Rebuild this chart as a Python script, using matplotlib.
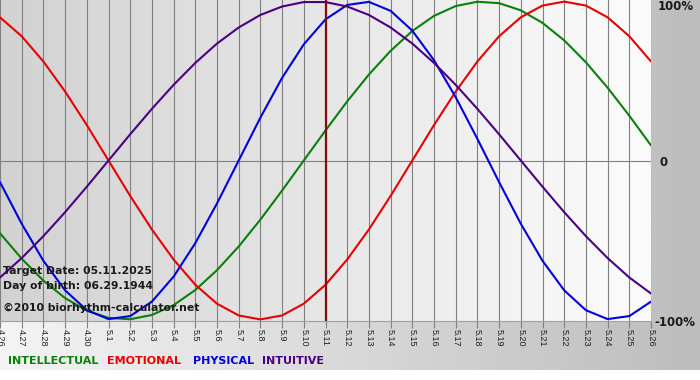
import matplotlib
matplotlib.use("Agg")
import matplotlib.pyplot as plt
import numpy as np
from matplotlib.colors import LinearSegmentedColormap

# day labels, 26 April .. 26 May
tick_labels = ["4.26", "4.27", "4.28", "4.29", "4.30",
               "5.1", "5.2", "5.3", "5.4", "5.5", "5.6", "5.7", "5.8", "5.9", "5.10",
               "5.11", "5.12", "5.13", "5.14", "5.15", "5.16", "5.17", "5.18", "5.19",
               "5.20", "5.21", "5.22", "5.23", "5.24", "5.25", "5.26"]
target_label = "5.11"

# cycle values (-1 .. 1) read per day
physical = [-0.136, -0.398, -0.631, -0.817, -0.942, -0.998, -0.979, -0.888, -0.731, -0.520,
            -0.270, 0.000, 0.270, 0.520, 0.731, 0.888, 0.979, 0.998, 0.942, 0.817,
            0.631, 0.398, 0.136, -0.136, -0.398, -0.631, -0.817, -0.942, -0.998, -0.979,
            -0.888]
emotional = [0.901, 0.782, 0.623, 0.434, 0.223, 0.000, -0.223, -0.434, -0.623, -0.782,
             -0.901, -0.975, -1.000, -0.975, -0.901, -0.782, -0.623, -0.434, -0.223, 0.000,
             0.223, 0.434, 0.623, 0.782, 0.901, 0.975, 1.000, 0.975, 0.901, 0.782,
             0.623]
intellectual = [-0.458, -0.618, -0.756, -0.866, -0.945, -0.990, -0.999, -0.972, -0.910, -0.815,
                -0.690, -0.541, -0.372, -0.189, 0.000, 0.189, 0.372, 0.541, 0.690, 0.815,
                0.910, 0.972, 0.999, 0.990, 0.945, 0.866, 0.756, 0.618, 0.458, 0.282,
                0.095]
intuitive = [-0.736, -0.614, -0.476, -0.325, -0.165, 0.000, 0.165, 0.325, 0.476, 0.614,
             0.736, 0.837, 0.916, 0.969, 0.997, 0.997, 0.969, 0.916, 0.837, 0.736,
             0.614, 0.476, 0.325, 0.165, 0.000, -0.165, -0.325, -0.476, -0.614, -0.736,
             -0.837]

info_lines = ["Target Date: 05.11.2025", "Day of birth: 06.29.1944",
              "\u00a92010 biorhythm-calculator.net"]

series = [("INTELLECTUAL", intellectual, "#0a800a"),
          ("EMOTIONAL", emotional, "#e80000"),
          ("PHYSICAL", physical, "#0000dd"),
          ("INTUITIVE", intuitive, "#4b0082")]

W, H = 700, 380
fig = plt.figure(figsize=(W / 100, H / 100), dpi=100, facecolor="white")

# outer background gradient
bg = fig.add_axes([0, 10 / H, 1, 1 - 10 / H])
bg_cmap = LinearSegmentedColormap.from_list("bg", ["#f4f4f4", "#bdbdbd"])
bg.imshow(np.linspace(0, 1, 256).reshape(1, -1), aspect="auto", cmap=bg_cmap,
          extent=[0, 1, 0, 1])
bg.axis("off")

# plot area
ax = fig.add_axes([0, 1 - 321 / H, 651 / W, 321 / H])
x = np.arange(len(tick_labels))
ax.set_xlim(x[0], x[-1])
ax.set_ylim(-1.01, 1.01)
pa_cmap = LinearSegmentedColormap.from_list("pa", ["#d2d2d2", "#fcfcfc"])
ax.imshow(np.linspace(0, 1, 256).reshape(1, -1), aspect="auto", cmap=pa_cmap,
          extent=[x[0], x[-1], -1.01, 1.01], zorder=0)

ax.set_xticks(x)
ax.set_xticklabels(tick_labels, family="Liberation Sans", color="#202020")
ax.tick_params(axis="x", length=5, color="#808080", pad=1, labelsize=6.5,
               labelrotation=270)
ax.set_yticks([])
ax.grid(axis="x", color="#808080", lw=0.8)
ax.axhline(0, color="#808080", lw=0.8, zorder=1)
for s in ["top", "left", "right"]:
    ax.spines[s].set_visible(False)
ax.spines["bottom"].set_color("#a0a0a0")
ax.spines["bottom"].set_linewidth(0.8)

for name, vals, col in series:
    ax.plot(x, vals, color=col, lw=1.5, zorder=3, solid_capstyle="round")

ax.axvline(tick_labels.index(target_label), color="#7a1010", lw=1.6, zorder=4)

for i, t in enumerate(info_lines):
    ax.text(0.004, [0.155, 0.108, 0.04][i], t, transform=ax.transAxes,
            fontsize=7.8, fontweight="bold", color="#1a1a1a", va="center", zorder=5)

# right-side percentage labels
fig.text(658 / W, 1 - 7 / H, "100%", fontsize=8.5, fontweight="bold", va="center",
         color="#1a1a1a")
fig.text(660 / W, 1 - 162 / H, "0", fontsize=8.5, fontweight="bold", va="center",
         color="#1a1a1a")
fig.text(654 / W, 1 - 322 / H, "-100%", fontsize=8.5, fontweight="bold", va="center",
         color="#1a1a1a")

# legend words
legend_x = [8, 107, 193, 262]
for (name, vals, col), lx in zip(series, legend_x):
    fig.text(lx / W, 1 - 361 / H, name, fontsize=8, fontweight="bold", color=col,
             va="center")

fig.savefig("out.png", dpi=100)
